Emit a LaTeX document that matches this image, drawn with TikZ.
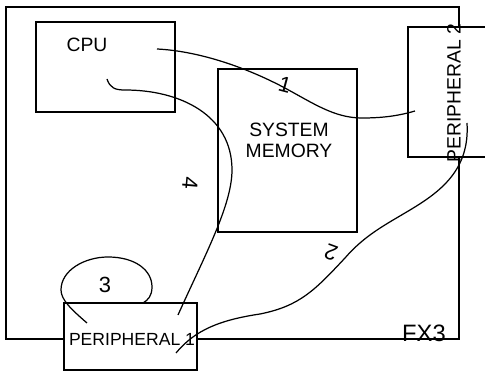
\documentclass[tikz,border=0pt]{standalone}
\usepackage{fontspec}
\setmainfont{Liberation Sans}
\usetikzlibrary{positioning}
\tikzset{
  frame/.style={draw, line width=0.7pt, inner sep=0pt},
  box/.style={draw, fill=white, line width=0.7pt, inner sep=0pt},
  txt/.style={font=\fontsize{11}{12}\selectfont, inner sep=0pt, align=center},
  smalltxt/.style={font=\fontsize{10}{12}\selectfont, inner sep=0pt},
  bigtxt/.style={font=\fontsize{13.5}{15}\selectfont, inner sep=0pt},
  num/.style={font=\fontsize{12.5}{14}\selectfont, inner sep=0pt},
  wire/.style={line width=0.7pt},
}

\begin{document}
\begin{tikzpicture}[x=0.02cm, y=-0.02cm]
    \useasboundingbox (0,0) rectangle (485,371);
    \clip (0,0) rectangle (485,371);

    \node[frame, minimum width=9.06cm, minimum height=6.64cm] (fx3) at (232.5,173) {};

    \node[box, minimum width=2.78cm, minimum height=1.8cm] (cpu) at (105.5,67) {};
    \node[box, minimum width=2.78cm, minimum height=3.26cm] (mem) at (287.5,150.5) {};
    \node[box, minimum width=2.04cm, minimum height=2.6cm] (per2) at (459,92) {};
    \node[box, minimum width=2.66cm, minimum height=1.34cm] (per1) at (130.5,336.5) {};

    \node[txt] (cpu-txt) at (87,45) {CPU};
    \node[txt] (mem-txt) at (289,140) {SYSTEM\\MEMORY};
    \node[txt, rotate=90] (per2-txt) at (454,93) {PERIPHERAL 2};
    \node[smalltxt] (per1-txt) at (132,339) {PERIPHERAL 1};
    \node[bigtxt] (fx3-txt) at (424,333) {FX3};

    \coordinate (cpu-a) at (157,49);
    \coordinate (cpu-b) at (107,79);
    \coordinate (per2-a) at (415,111);
    \coordinate (per2-b) at (467,123);
    \coordinate (per1-a) at (178,315);
    \coordinate (per1-b) at (87,323);
    \coordinate (per1-c) at (143,303);
    \coordinate (per1-d) at (176,353);

    \draw[wire] (cpu-a) .. controls (197,51) and (243,66) .. (283,87)
      .. controls (313,103) and (334,118) .. (362,118)
      .. controls (382,118) and (398,116) .. (per2-a);
    \draw[wire] (cpu-b) .. controls (110,88) and (115,90) .. (125,90)
      .. controls (180,90) and (232,115) .. (232,170)
      .. controls (232,205) and (205,255) .. (per1-a);
    \draw[wire] (per1-b) .. controls (72,310) and (61,300) .. (61,290)
      .. controls (61,270) and (85,257) .. (108,257)
      .. controls (135,257) and (152,270) .. (152,287)
      .. controls (152,296) and (148,300) .. (per1-c);
    \draw[wire] (per1-d) .. controls (195,330) and (220,320) .. (260,314)
      .. controls (300,306) and (315,290) .. (345,258)
      .. controls (365,235) and (385,225) .. (410,210)
      .. controls (440,192) and (470,170) .. (per2-b);

    \node[num, rotate=-15] (n1) at (285,85) {1};
    \node[num, rotate=160] (n2) at (331,253) {2};
    \node[num] (n3) at (105,285) {3};
    \node[num, rotate=-95] (n4) at (190,183) {4};
\end{tikzpicture}
\end{document}
